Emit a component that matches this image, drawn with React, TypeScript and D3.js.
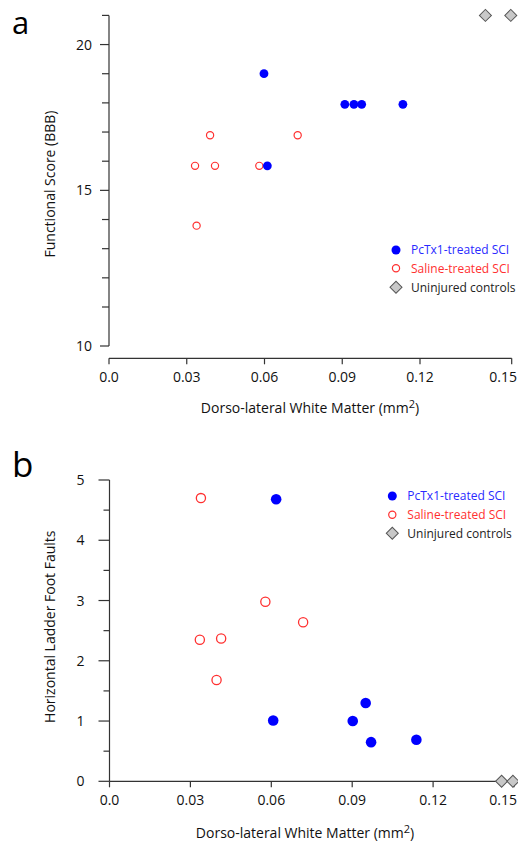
import React from "react";
import * as d3 from "d3";

// ---------- Data ----------
// Panel a: BBB functional score vs dorso-lateral white matter
const aPcTx1X = [0.0598, 0.091, 0.0945, 0.0975, 0.1134, 0.0611];
const aPcTx1Y = [19.0, 17.95, 17.95, 17.95, 17.95, 15.84];
const aSalineX = [0.0332, 0.039, 0.0409, 0.058, 0.0728, 0.0338];
const aSalineY = [15.84, 16.89, 15.84, 15.84, 16.89, 13.79];
const aControlX = [0.1414, 0.1497];
const aControlY = [21, 21];

// Panel b: horizontal ladder foot faults vs dorso-lateral white matter
const bPcTx1X = [0.0618, 0.0607, 0.0902, 0.095, 0.097, 0.1138];
const bPcTx1Y = [4.68, 1.01, 1.0, 1.3, 0.65, 0.69];
const bSalineX = [0.0339, 0.0578, 0.0718, 0.0335, 0.0414, 0.0397];
const bSalineY = [4.7, 2.98, 2.64, 2.35, 2.37, 1.68];
const bControlX = [0.1454, 0.1496];
const bControlY = [0, 0];

const xTickValues = [0, 0.03, 0.06, 0.09, 0.12, 0.15];
const xTickLabels = ["0.0", "0.03", "0.06", "0.09", "0.12", "0.15"];
const aYTicks = d3.range(10, 22, 1);
const aYLabels = [10, 15, 20];
const bYTicks = d3.range(0, 5.01, 0.5);
const bYLabels = [0, 1, 2, 3, 4, 5];

const legendLabels = ["PcTx1-treated SCI", "Saline-treated SCI", "Uninjured controls"];

const BLUE = "#0000ff";
const RED = "#ff3030";
const GREY = "#c8c8c8";
const AXIS = "#333";
const FONT = "'Open Sans', 'Noto Sans', sans-serif";

const diamondPath = d3.symbol(d3.symbolSquare, 72)();

type Scale = (v: number) => number;

function Diamond({ x, y }: { x: number; y: number }) {
  return (
    <path
      d={diamondPath || ""}
      transform={`translate(${x},${y}) rotate(45)`}
      fill={GREY}
      stroke="#555"
      strokeWidth={1}
    />
  );
}

function Legend({ x, y0, dy, rBlue, rRed }: { x: number; y0: number; dy: number[]; rBlue: number; rRed: number }) {
  const colors = ["#2a2aff", RED, "#222"];
  return (
    <g>
      {legendLabels.map((t, i) => {
        const y = y0 + dy[i];
        return (
          <g key={t}>
            {i === 0 && <circle cx={x} cy={y} r={rBlue} fill={BLUE} />}
            {i === 1 && <circle cx={x} cy={y} r={rRed} fill="white" stroke={RED} strokeWidth={1.2} />}
            {i === 2 && <Diamond x={x} y={y} />}
            <text x={x + 15} y={y + 4.3} fontSize={12} fill={colors[i]} fontFamily={FONT}>
              {t}
            </text>
          </g>
        );
      })}
    </g>
  );
}

function XAxis({ x, y, tickLen }: { x: Scale; y: number; tickLen: number }) {
  const x0 = x(xTickValues[0]);
  const x1 = x(xTickValues[xTickValues.length - 1]);
  const last = xTickValues.length - 1;
  return (
    <g>
      <line x1={x0} x2={x1} y1={y} y2={y} stroke={AXIS} strokeWidth={1.2} />
      {xTickValues.map((v, i) => (
        <g key={v}>
          <line x1={x(v)} x2={x(v)} y1={y} y2={y + tickLen} stroke={AXIS} strokeWidth={1.2} />
          <text
            x={i === last ? Math.min(x(v) + 15, 517) : x(v)}
            y={y + 24}
            textAnchor={i === last ? "end" : "middle"}
            fontSize={14}
            fill="#111"
            fontFamily={FONT}
          >
            {xTickLabels[i]}
          </text>
        </g>
      ))}
    </g>
  );
}

function YAxis({
  yS,
  ticks,
  labels,
  x,
  majorLen,
  minorLen,
  labelGap,
}: {
  yS: Scale;
  ticks: number[];
  labels: number[];
  x: number;
  majorLen: number;
  minorLen: number;
  labelGap: number;
}) {
  const ys = ticks.map(yS);
  return (
    <g>
      <line x1={x} x2={x} y1={d3.min(ys)!} y2={d3.max(ys)!} stroke={AXIS} strokeWidth={1.2} />
      {ticks.map((v) => {
        const major = labels.includes(v);
        const len = major ? majorLen : minorLen;
        return (
          <g key={v}>
            <line x1={x - len} x2={x} y1={yS(v)} y2={yS(v)} stroke={AXIS} strokeWidth={1.2} />
            {major && (
              <text x={x - majorLen - labelGap} y={yS(v) + 5} textAnchor="end" fontSize={14} fill="#111" fontFamily={FONT}>
                {v}
              </text>
            )}
          </g>
        );
      })}
    </g>
  );
}

function XTitle({ cx, y }: { cx: number; y: number }) {
  return (
    <text x={cx} y={y} textAnchor="middle" fontSize={14} fill="#111" fontFamily={FONT}>
      Dorso-lateral White Matter (mm
      <tspan dy={-5} fontSize={11}>2</tspan>
      <tspan dy={5}>)</tspan>
    </text>
  );
}

export default function App() {
  // Panel a scales (the reference axis is not uniform at its ends)
  const xa = d3.scaleLinear().domain([0, 0.12, 0.15]).range([109, 420, 511.7]);
  const ya = d3.scaleLinear().domain([10, 11, 21]).range([346, 307, 15.4]);
  // Panel b scales
  const xb = d3.scaleLinear().domain([0, 0.15]).range([109.5, 514]);
  const yb = d3.scaleLinear().domain([0, 5]).range([781.3, 480]);

  return (
    <svg
      width={518}
      height={844}
      style={{ position: "absolute", left: 0, top: 0, background: "white" }}
    >
      <rect width={518} height={844} fill="white" />

      {/* Panel a */}
      <text x={12} y={33.5} fontSize={31} fill="#000" fontFamily={FONT}>a</text>
      <YAxis yS={ya} ticks={aYTicks} labels={aYLabels} x={109} majorLen={9} minorLen={7} labelGap={8} />
      <XAxis x={xa} y={358.3} tickLen={6} />
      <text
        transform={`translate(55,184) rotate(-90)`}
        textAnchor="middle"
        fontSize={14}
        fill="#111"
        fontFamily={FONT}
      >
        Functional Score (BBB)
      </text>
      <XTitle cx={310} y={413} />
      {aSalineX.map((v, i) => (
        <circle key={"as" + i} cx={xa(v)} cy={ya(aSalineY[i])} r={3.6} fill="white" stroke={RED} strokeWidth={1.2} />
      ))}
      {aPcTx1X.map((v, i) => (
        <circle key={"ap" + i} cx={xa(v)} cy={ya(aPcTx1Y[i])} r={4.4} fill={BLUE} />
      ))}
      {aControlX.map((v, i) => (
        <Diamond key={"ac" + i} x={xa(v)} y={ya(aControlY[i])} />
      ))}
      <Legend x={396} y0={250} dy={[0, 18.3, 37.3]} rBlue={4.5} rRed={3.6} />

      {/* Panel b */}
      <text x={12} y={476.7} fontSize={35} fill="#000" fontFamily={FONT}>b</text>
      <YAxis yS={yb} ticks={bYTicks} labels={bYLabels} x={109.5} majorLen={11} minorLen={6} labelGap={14} />
      <XAxis x={xb} y={781.3} tickLen={6} />
      <text
        transform={`translate(55,626.7) rotate(-90)`}
        textAnchor="middle"
        fontSize={14}
        fill="#111"
        fontFamily={FONT}
      >
        Horizontal Ladder Foot Faults
      </text>
      <XTitle cx={305} y={838} />
      {bSalineX.map((v, i) => (
        <circle key={"bs" + i} cx={xb(v)} cy={yb(bSalineY[i])} r={4.6} fill="white" stroke={RED} strokeWidth={1.3} />
      ))}
      {bPcTx1X.map((v, i) => (
        <circle key={"bp" + i} cx={xb(v)} cy={yb(bPcTx1Y[i])} r={5.3} fill={BLUE} />
      ))}
      {bControlX.map((v, i) => (
        <Diamond key={"bc" + i} x={xb(v)} y={yb(bControlY[i])} />
      ))}
      <Legend x={392.3} y0={496} dy={[0, 18.7, 37.3]} rBlue={4.5} rRed={3.6} />
    </svg>
  );
}
